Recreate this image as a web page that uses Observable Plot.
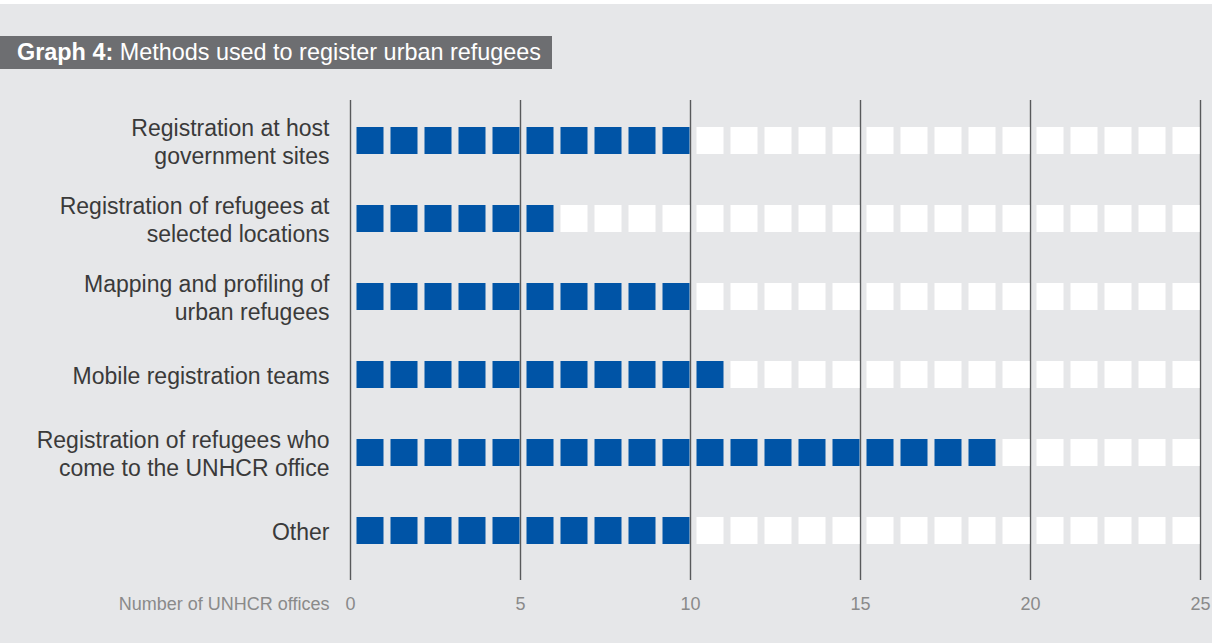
<!DOCTYPE html>
<html><head><meta charset="utf-8">
<script src="https://cdn.jsdelivr.net/npm/d3@7"></script>
<script src="https://cdn.jsdelivr.net/npm/@observablehq/plot@0.6"></script>
<style>
body{margin:0;background:#fff;}
#wrap{position:relative;width:1212px;height:643px;background:#e6e7e9;overflow:hidden}
#strip{position:absolute;left:0;top:0;width:1212px;height:4px;background:#fff}
#title{position:absolute;left:0;top:36px;width:552px;height:33px;background:#6d6e71;color:#fff;font-family:"Liberation Sans",Arial,sans-serif;font-size:23.4px;line-height:33px;padding-left:17px;box-sizing:border-box;white-space:nowrap}
#chart{position:absolute;left:0;top:0}
</style></head>
<body><div id="wrap"><div id="chart"></div><div id="strip"></div><div id="title"><b>Graph 4:</b> Methods used to register urban refugees</div></div>
<script>
const categories = [
  "Registration at host\ngovernment sites",
  "Registration of refugees at\nselected locations",
  "Mapping and profiling of\nurban refugees",
  "Mobile registration teams",
  "Registration of refugees who\ncome to the UNHCR office",
  "Other"
];
const values = [10, 6, 10, 11, 19, 10];
const maxOffices = 25;
const xTicks = [0, 5, 10, 15, 20, 25];
const axisLabel = "Number of UNHCR offices";

const cells = [];
categories.forEach((c, k) => {
  for (let i = 0; i < maxOffices; i++) cells.push({category: c, i, filled: i < values[k]});
});

const plot = Plot.plot({
  width: 1212, height: 643,
  marginLeft: 350, marginRight: 12, marginTop: 100, marginBottom: 63,
  style: {background: "transparent", fontFamily: "'Liberation Sans', Arial, sans-serif"},
  x: {domain: [0, maxOffices], axis: null},
  y: {domain: categories, axis: null, paddingInner: 0, paddingOuter: 0.07692, align: 0.125, round: false},
  marks: [
    Plot.ruleX(xTicks, {stroke: "#58595b", strokeWidth: 1.4}),
    Plot.barX(cells.filter(d => d.filled), {x1: "i", x2: d => d.i + 1, y: "category", fill: "#0054a6",
      insetLeft: 6.5, insetRight: 0.5, insetTop: 25.5, insetBottom: 25.5}),
    Plot.barX(cells.filter(d => !d.filled), {x1: "i", x2: d => d.i + 1, y: "category", fill: "#ffffff",
      insetLeft: 6.5, insetRight: 0.5, insetTop: 25.5, insetBottom: 25.5}),
    Plot.text(categories, {y: d => d, frameAnchor: "left", dx: -21, textAnchor: "end",
      fontSize: 23, lineHeight: 1.22, fill: "#3a3a3a"}),
    Plot.text(xTicks, {x: d => d, frameAnchor: "bottom", dy: 29, fontSize: 18, fill: "#8a8a8a"}),
    Plot.text([axisLabel], {x: () => 0, frameAnchor: "bottom", dx: -21, dy: 29, textAnchor: "end",
      fontSize: 18, fill: "#8a8a8a"})
  ]
});
document.getElementById("chart").appendChild(plot);
</script>
</body></html>
